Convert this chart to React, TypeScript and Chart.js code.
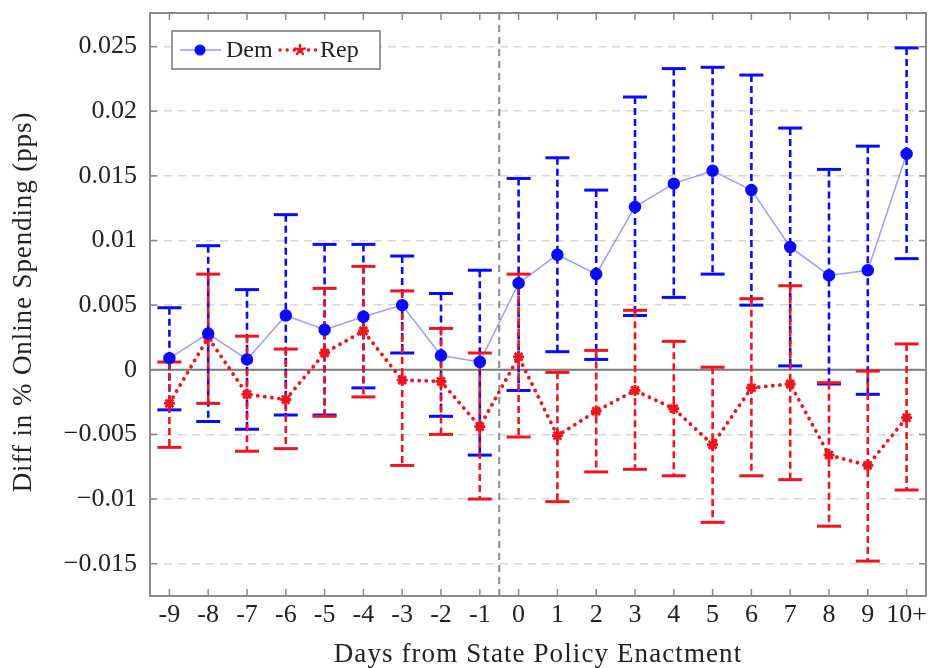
import React, { useEffect, useRef } from "react";
import { Chart, registerables } from "chart.js";

Chart.register(...registerables);

const categories = ["-9", "-8", "-7", "-6", "-5", "-4", "-3", "-2", "-1", "0", "1", "2", "3", "4", "5", "6", "7", "8", "9", "10+"];

const demMean = [0.0009, 0.0028, 0.0008, 0.0042, 0.0031, 0.0041, 0.005, 0.0011, 0.0006, 0.0067, 0.0089, 0.0074, 0.0126, 0.0144, 0.0154, 0.0139, 0.0095, 0.0073, 0.0077, 0.0167];
const demUpper = [0.0048, 0.0096, 0.0062, 0.012, 0.0097, 0.0097, 0.0088, 0.0059, 0.0077, 0.0148, 0.0164, 0.0139, 0.0211, 0.0233, 0.0234, 0.0228, 0.0187, 0.0155, 0.0173, 0.0249];
const demLower = [-0.0031, -0.004, -0.0046, -0.0035, -0.0035, -0.0014, 0.0013, -0.0036, -0.0066, -0.0016, 0.0014, 0.0008, 0.0042, 0.0056, 0.0074, 0.005, 0.0003, -0.0011, -0.0019, 0.0086];

const repMean = [-0.0026, 0.0025, -0.0019, -0.0023, 0.0013, 0.003, -0.0008, -0.0009, -0.0044, 0.001, -0.0051, -0.0032, -0.0016, -0.003, -0.0058, -0.0014, -0.0011, -0.0066, -0.0074, -0.0037];
const repUpper = [0.0006, 0.0074, 0.0026, 0.0016, 0.0063, 0.008, 0.0061, 0.0032, 0.0013, 0.0074, -0.0002, 0.0015, 0.0046, 0.0022, 0.0002, 0.0055, 0.0065, -0.001, -0.0001, 0.002];
const repLower = [-0.006, -0.0026, -0.0063, -0.0061, -0.0036, -0.0021, -0.0074, -0.005, -0.01, -0.0052, -0.0102, -0.0079, -0.0077, -0.0082, -0.0118, -0.0082, -0.0085, -0.0121, -0.0148, -0.0093];

const yMin = -0.0175;
const yMax = 0.0276;
const yStep = 0.005;

const xTitle = "Days from State Policy Enactment";
const yTitle = "Diff in % Online Spending (pps)";

const BLUE = "#0a0aff";
const RED = "#f0141e";
const FONT = "'Liberation Serif', 'Times New Roman', serif";
const PLOT_RIGHT = 926;

function line(ctx: CanvasRenderingContext2D, x1: number, y1: number, x2: number, y2: number) {
  ctx.beginPath();
  ctx.moveTo(x1, y1);
  ctx.lineTo(x2, y2);
  ctx.stroke();
}

function drawStar(ctx: CanvasRenderingContext2D, cx: number, cy: number, r: number) {
  ctx.beginPath();
  for (let i = 0; i < 5; i++) {
    const a = -Math.PI / 2 + (i * 2 * Math.PI) / 5;
    ctx.moveTo(cx, cy);
    ctx.lineTo(cx + r * Math.cos(a), cy + r * Math.sin(a));
  }
  ctx.stroke();
}

const overlay = {
  id: "overlay",
  afterLayout(chart: any) {
    const a = chart.chartArea;
    const x = chart.scales.x;
    a.right = PLOT_RIGHT;
    a.width = a.right - a.left;
    x.right = PLOT_RIGHT;
    x.width = x.right - x.left;
    x.configure();
    const y = chart.scales.y;
    y.configure();
  },
  beforeDatasetsDraw(chart: any) {
    const { ctx, chartArea: a, scales } = chart;
    const x = scales.x;
    const y = scales.y;
    ctx.save();
    ctx.strokeStyle = "#7a7a7a";
    ctx.lineWidth = 2;
    const y0 = y.getPixelForValue(0);
    line(ctx, a.left, y0, a.right, y0);
    const xv = (x.getPixelForValue(8) + x.getPixelForValue(9)) / 2;
    ctx.strokeStyle = "#8a8a8a";
    ctx.setLineDash([7, 5]);
    line(ctx, xv, a.top, xv, a.bottom);
    const bars = (lo: number[], hi: number[], color: string) => {
      ctx.strokeStyle = color;
      for (let i = 0; i < lo.length; i++) {
        const px = x.getPixelForValue(i);
        const pl = y.getPixelForValue(lo[i]);
        const ph = y.getPixelForValue(hi[i]);
        ctx.setLineDash([7, 4]);
        ctx.lineWidth = 2.6;
        line(ctx, px, ph, px, pl);
        ctx.setLineDash([]);
        ctx.lineWidth = 3;
        line(ctx, px - 12, ph, px + 12, ph);
        line(ctx, px - 12, pl, px + 12, pl);
      }
    };
    bars(demLower, demUpper, BLUE);
    bars(repLower, repUpper, RED);
    ctx.restore();
  },
  afterDraw(chart: any) {
    const { ctx, chartArea: a, scales } = chart;
    const x = scales.x;
    const y = scales.y;
    ctx.save();
    ctx.strokeStyle = "#8a8a8a";
    ctx.lineWidth = 2;
    ctx.setLineDash([]);
    ctx.strokeRect(a.left, a.top, a.right - a.left, a.bottom - a.top);
    ctx.lineWidth = 1.5;
    for (let i = 0; i < categories.length; i++) {
      const px = x.getPixelForValue(i);
      line(ctx, px, a.bottom, px, a.bottom - 7);
      line(ctx, px, a.top, px, a.top + 7);
    }
    y.ticks.forEach((t: any) => {
      const py = y.getPixelForValue(t.value);
      line(ctx, a.left, py, a.left + 7, py);
      line(ctx, a.right, py, a.right - 7, py);
    });
    ctx.fillStyle = "#222";
    ctx.font = `27px ${FONT}`;
    ctx.textAlign = "center";
    ctx.textBaseline = "alphabetic";
    (ctx as any).letterSpacing = "1.1px";
    ctx.fillText(xTitle, (a.left + a.right) / 2, 662);
    ctx.save();
    ctx.translate(31, 302);
    ctx.rotate(-Math.PI / 2);
    (ctx as any).letterSpacing = "0.9px";
    ctx.fillText(yTitle, 0, 0);
    ctx.restore();
    (ctx as any).letterSpacing = "0px";
    const lx = 172, ly = 31, lw = 208, lh = 38;
    ctx.fillStyle = "#ffffff";
    ctx.fillRect(lx, ly, lw, lh);
    ctx.strokeStyle = "#777";
    ctx.lineWidth = 1.5;
    ctx.strokeRect(lx, ly, lw, lh);
    const cy = ly + lh / 2;
    ctx.strokeStyle = "rgba(90,90,255,0.6)";
    ctx.lineWidth = 1.5;
    line(ctx, 180, cy, 221, cy);
    ctx.fillStyle = BLUE;
    ctx.beginPath();
    ctx.arc(200, cy, 5.5, 0, Math.PI * 2);
    ctx.fill();
    ctx.fillStyle = "#222";
    ctx.font = `24px ${FONT}`;
    ctx.textBaseline = "middle";
    ctx.textAlign = "left";
    ctx.fillText("Dem", 226, cy + 1);
    ctx.strokeStyle = RED;
    ctx.lineWidth = 3.5;
    ctx.lineCap = "round";
    ctx.setLineDash([0.1, 7]);
    line(ctx, 280, cy, 316, cy);
    ctx.setLineDash([]);
    ctx.lineWidth = 2.5;
    drawStar(ctx, 300, cy, 5);
    ctx.fillStyle = "#222";
    ctx.fillText("Rep", 320, cy + 1);
    ctx.restore();
  },
};

function fmt(v: number) {
  if (Math.abs(v) < 1e-9) return "0";
  const s = parseFloat(v.toFixed(3)).toString();
  return s.replace("-", "\u2212");
}

export default function App() {
  const ref = useRef<HTMLCanvasElement | null>(null);
  useEffect(() => {
    if (!ref.current) return;
    const chart = new Chart(ref.current, {
      type: "line",
      data: {
        labels: categories,
        datasets: [
          {
            label: "Dem",
            data: demMean,
            borderColor: "rgba(90,90,255,0.6)",
            borderWidth: 1.5,
            pointBackgroundColor: BLUE,
            pointBorderColor: BLUE,
            pointRadius: 5.5,
            pointStyle: "circle",
            fill: false,
            tension: 0,
          },
          {
            label: "Rep",
            data: repMean,
            borderColor: RED,
            borderWidth: 3.8,
            borderDash: [0.1, 7],
            borderCapStyle: "round",
            pointStyle: "star",
            pointRadius: 5.5,
            pointBorderWidth: 2.8,
            pointBorderColor: RED,
            pointBackgroundColor: RED,
            fill: false,
            tension: 0,
          },
        ],
      },
      options: {
        animation: false,
        responsive: false,
        maintainAspectRatio: false,
        layout: { padding: { top: 13, right: 5, left: 0, bottom: 0 } },
        plugins: { legend: { display: false }, tooltip: { enabled: false } },
        scales: {
          x: {
            type: "category",
            offset: true,
            grid: { display: false, drawTicks: false },
            border: { display: false },
            ticks: { color: "#222", font: { family: FONT, size: 26 }, padding: 4, maxRotation: 0, autoSkip: false },
            afterFit: (s: any) => {
              s.height = 72;
              s.paddingLeft = 0;
              s.paddingRight = 0;
            },
          },
          y: {
            type: "linear",
            min: yMin,
            max: yMax,
            grid: { color: "#d6d6d6", lineWidth: 1.5, drawTicks: false },
            border: { display: false, dash: [8, 6] },
            ticks: {
              stepSize: yStep,
              includeBounds: false,
              color: "#222",
              font: { family: FONT, size: 26 },
              padding: 13,
              callback: (v: any) => fmt(Number(v)),
            },
            afterFit: (s: any) => {
              s.width = 150;
              s.paddingTop = 0;
              s.paddingBottom = 0;
            },
          },
        },
      } as any,
      plugins: [overlay],
    });
    return () => chart.destroy();
  }, []);
  return (
    <div style={{ position: "fixed", left: 0, top: 0, width: 931, height: 668, background: "#fff" }}>
      <canvas ref={ref} width={931} height={668} style={{ width: 931, height: 668, display: "block" }} />
    </div>
  );
}
